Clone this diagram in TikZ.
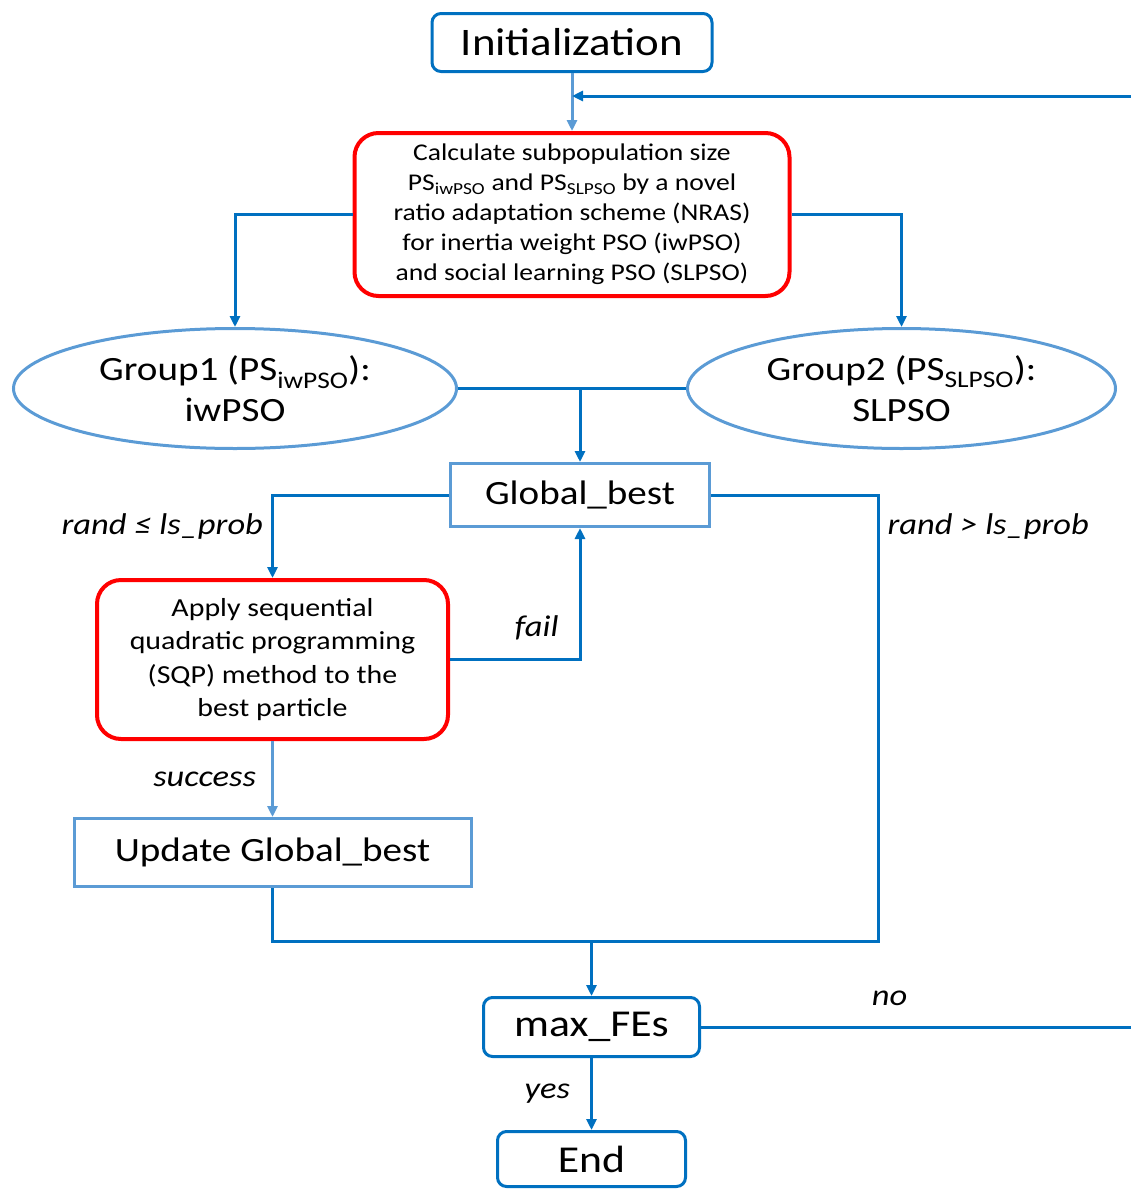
\documentclass[tikz,border=0pt]{standalone}
\usepackage{fontspec}
\setmainfont{Carlito}[FakeStretch=1.15]
\usetikzlibrary{shapes.geometric, arrows.meta, positioning, calc}
\definecolor{lineblue}{RGB}{0,112,192}
\definecolor{paleblue}{RGB}{91,155,213}
\definecolor{boxred}{RGB}{255,0,0}

\begin{document}
\begin{tikzpicture}[x=1pt, y=-1pt, line width=3pt,
    >={Triangle[length=11pt, width=10pt]},
    term/.style={draw=lineblue, rounded corners=9pt, inner sep=0pt, font=\fontsize{38}{46}\selectfont},
    proc/.style={draw=paleblue, inner sep=0pt, font=\fontsize{34}{41}\selectfont},
    redbox/.style={draw=boxred, line width=4pt, rounded corners=24pt, align=center, inner sep=0pt},
    group/.style={draw=paleblue, ellipse, inner sep=0pt, align=center, font=\fontsize{34}{41}\selectfont},
    flow/.style={draw=lineblue, ->},
    flowlight/.style={draw=paleblue, ->},
    lbl/.style={font=\fontsize{30}{36}\selectfont\itshape, text=black, inner sep=0pt}]
    \useasboundingbox (0,0) rectangle (1131,1189);

    \node[term, minimum width=280pt, minimum height=58pt, font=\fontsize{39}{47}\selectfont] (init) at (572,42.5) {Initialization};
    \node[redbox, below=58pt of init, minimum width=435pt, minimum height=163pt, font=\fontsize{24}{30}\selectfont] (calc) {Calculate subpopulation size\\ PS\textsubscript{iwPSO} and PS\textsubscript{SLPSO} by a novel\\ ratio adaptation scheme (NRAS)\\ for inertia weight PSO (iwPSO)\\ and social learning PSO (SLPSO)};
    \node[group, minimum width=443pt, minimum height=120pt] (g1) at (235,388.5) {Group1 (PS\textsubscript{iwPSO}):\\ iwPSO};
    \node[group, minimum width=428pt, minimum height=120pt] (g2) at (901.5,388.5) {Group2 (PS\textsubscript{SLPSO}):\\ SLPSO};
    \node[proc, minimum width=259pt, minimum height=63pt] (gb) at (580,495) {Global\_best};
    \node[redbox, minimum width=351pt, minimum height=159pt, font=\fontsize{26}{33.5}\selectfont] (sqp) at (272.5,659.5) {Apply sequential\\ quadratic programming\\ (SQP) method to the\\ best particle};
    \node[proc, below=76pt of sqp, minimum width=397pt, minimum height=68pt] (upd) {Update Global\_best};
    \node[term, minimum width=216pt, minimum height=59pt] (maxfe) at (591.5,1027) {max\_FEs};
    \node[term, below=72pt of maxfe, minimum width=188pt, minimum height=55pt] (end) {End};

    \coordinate (fb) at (init.south |- 0,96);
    \coordinate (mjoin) at (maxfe.north |- 0,941);
    \coordinate (rjoin) at (878,941);
    \coordinate (outR) at (1150,0);

    \draw[flowlight] (init) -- (calc);
    \draw[flow] (calc.west) -| (g1.north);
    \draw[flow] (calc.east) -| (g2.north);
    \draw[lineblue] (g1.east) -- (g2.west);
    \draw[flow] (gb.north |- g1.east) -- (gb.north);
    \draw[flow] (gb.west) -| node[lbl, pos=0.69, left=8pt] {rand ≤ ls\_prob} (sqp.north);
    \draw[lineblue] (gb.east) -| node[lbl, pos=0.535, right=8pt] {rand > ls\_prob} (rjoin) -- (mjoin);
    \draw[flow] (sqp.east) -| node[lbl, pos=0.62, left=20pt] {fail} (gb.south);
    \draw[flowlight] (sqp) -- node[lbl, left=15pt] {success} (upd);
    \draw[lineblue] (upd.south) |- (mjoin);
    \draw[flow] (mjoin) -- (maxfe.north);
    \draw[flow] (maxfe) -- node[lbl, left=20pt] {yes} (end);
    \draw[flow] (maxfe.east) -- node[lbl, pos=0.42, above=20pt] {no} (maxfe.east -| outR) |- (fb);
\end{tikzpicture}
\end{document}
